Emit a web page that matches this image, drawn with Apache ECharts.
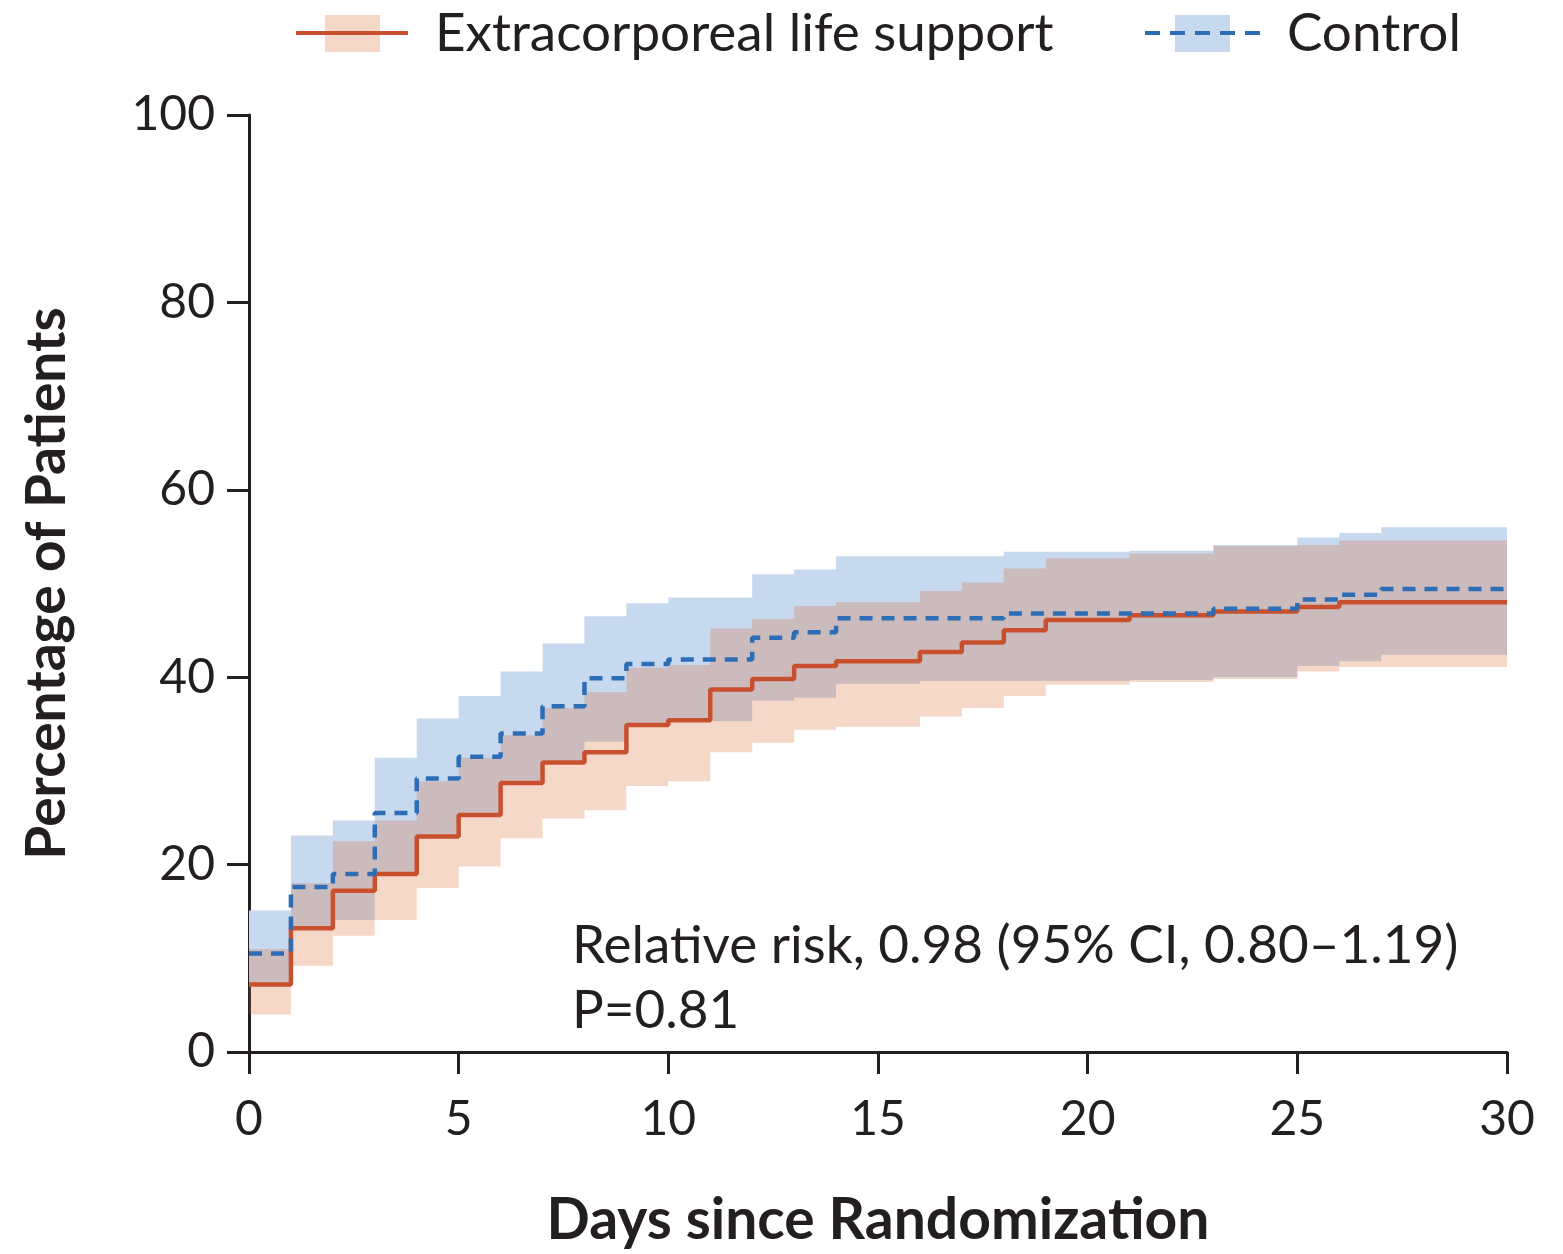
<!DOCTYPE html>
<html>
<head>
<meta charset="utf-8">
<script src="https://cdn.jsdelivr.net/npm/echarts@6/dist/echarts.min.js"></script>
<style>
html,body{margin:0;padding:0;background:#fff;}
#chart{width:1563px;height:1254px;}
</style>
</head>
<body>
<div id="chart"></div>
<script>
// Days since randomization (step value holds on [day, day+1))
const days = [0,1,2,3,4,5,6,7,8,9,10,11,12,13,14,15,16,17,18,19,20,21,22,23,24,25,26,27,28,29,30];
// Extracorporeal life support: estimate and 95% CI
const eclsEst = [7.2,13.2,17.2,19.0,23.0,25.3,28.7,30.9,32.0,34.9,35.4,38.7,39.8,41.2,41.7,41.7,42.7,43.7,45.0,46.1,46.1,46.6,46.6,47.0,47.0,47.5,48.0,48.0,48.0,48.0,48.0];
const eclsUp  = [11.0,18.0,22.5,24.7,28.9,31.4,33.8,36.7,38.4,41.0,41.3,45.2,46.2,47.6,48.0,48.0,49.2,50.1,51.6,52.7,52.7,53.2,53.2,54.0,54.0,54.1,54.6,54.6,54.6,54.6,54.6];
const eclsLow = [4.0,9.2,12.4,14.1,17.5,19.8,22.8,24.9,25.8,28.4,28.9,32.0,33.0,34.4,34.7,34.7,35.8,36.7,38.0,39.2,39.2,39.5,39.5,39.8,39.8,40.6,41.1,41.1,41.1,41.1,41.1];
// Control: estimate and 95% CI
const ctrlEst = [10.5,17.6,19.0,25.5,29.2,31.5,34.0,36.9,39.9,41.4,41.9,41.9,44.2,44.8,46.3,46.3,46.3,46.3,46.8,46.8,46.8,46.8,46.8,47.3,47.3,48.3,48.8,49.4,49.4,49.4,49.4];
const ctrlUp  = [15.1,23.1,24.7,31.4,35.6,38.0,40.6,43.6,46.5,47.9,48.5,48.5,51.0,51.5,52.9,52.9,52.9,52.9,53.4,53.4,53.4,53.5,53.5,54.1,54.1,54.9,55.4,56.0,56.0,56.0,56.0];
const ctrlLow = [7.0,13.3,14.1,19.1,23.0,25.4,28.6,31.0,33.1,34.9,35.3,35.3,37.5,37.8,39.3,39.3,39.6,39.6,39.6,39.6,39.6,39.7,39.7,40.0,40.0,41.2,41.7,42.4,42.4,42.4,42.4];

const xTicks = [0,5,10,15,20,25,30];
const yTicks = [0,20,40,60,80,100];
const legendNames = ['Extracorporeal life support','Control'];
const noteLines = ['Relative risk, 0.98 (95% CI, 0.80\u20131.19)','P=0.81'];
const xTitle = 'Days since Randomization';
const yTitle = 'Percentage of Patients';

const RED = '#c8502f';
const BLUE = '#2d6db5';
const BAND_BLUE = 'rgb(199,217,239)';
const BAND_ORANGE = 'rgba(219,99,39,0.25)';
const BAND_ORANGE_SOLID = 'rgb(246,216,201)';
const INK = '#231f20';
const FONT = 'Lato, "Open Sans", sans-serif';

const pairs = (ys) => days.map((d, i) => [d, ys[i]]);

// Step band polygon drawn through the cartesian scale
function bandSeries(up, lo, color, z) {
  return {
    type:'custom', silent:true, z:z, clip:true,
    data:[[0, lo[0]]],
    renderItem:function(params, api){
      const top = [], bot = [];
      for (let i = 0; i < days.length; i++) {
        const x0 = days[i];
        const x1 = i + 1 < days.length ? days[i+1] : days[i];
        top.push(api.coord([x0, up[i]]));
        top.push(api.coord([x1, up[i]]));
        bot.push(api.coord([x0, lo[i]]));
        bot.push(api.coord([x1, lo[i]]));
      }
      const pts = top.concat(bot.reverse());
      return {type:'polygon', shape:{points:pts}, style:{fill:color, stroke:null}};
    }
  };
}

const chart = echarts.init(document.getElementById('chart'), null, {renderer:'canvas'});
chart.setOption({
  animation:false,
  backgroundColor:'#fff',
  grid:{left:249, right:56, top:115, bottom:194, containLabel:false},
  xAxis:{
    type:'value', min:0, max:30, interval:5,
    axisLine:{lineStyle:{color:INK, width:3}},
    axisTick:{length:22, lineStyle:{color:INK, width:3}},
    axisLabel:{color:INK, fontSize:48, fontFamily:FONT, margin:44,
      formatter:(v)=> xTicks.includes(v) ? String(v) : ''},
    splitLine:{show:false},
    name:xTitle, nameLocation:'middle', nameGap:140,
    nameTextStyle:{color:INK, fontSize:57, fontWeight:'bold', fontFamily:FONT}
  },
  yAxis:{
    type:'value', min:0, max:100, interval:20,
    axisLine:{show:true, lineStyle:{color:INK, width:3}},
    axisTick:{show:true, length:22, lineStyle:{color:INK, width:3}},
    axisLabel:{color:INK, fontSize:48, fontFamily:FONT, margin:34,
      formatter:(v)=> yTicks.includes(v) ? String(v) : ''},
    splitLine:{show:false},
    name:yTitle, nameLocation:'middle', nameGap:174,
    nameTextStyle:{color:INK, fontSize:55, fontWeight:'bold', fontFamily:FONT}
  },
  series:[
    bandSeries(ctrlUp, ctrlLow, BAND_BLUE, 1),
    bandSeries(eclsUp, eclsLow, BAND_ORANGE, 2),
    {type:'line', name:legendNames[0], data:pairs(eclsEst), step:'end', showSymbol:false, symbol:'none',
      lineStyle:{color:RED, width:4.5}, silent:true, z:3},
    {type:'line', name:legendNames[1], data:pairs(ctrlEst), step:'end', showSymbol:false, symbol:'none',
      lineStyle:{color:BLUE, width:4.5, type:[13,9]}, silent:true, z:4}
  ],
  graphic:[
    {type:'rect', shape:{x:325, y:15, width:55, height:37}, style:{fill:BAND_ORANGE_SOLID}},
    {type:'line', shape:{x1:296, y1:33, x2:408, y2:33}, style:{stroke:RED, lineWidth:4}},
    {type:'text', x:435, y:34, style:{text:legendNames[0], fill:INK, font:'53px '+FONT, verticalAlign:'middle', align:'left'}},
    {type:'rect', shape:{x:1175, y:15, width:55, height:37}, style:{fill:BAND_BLUE}},
    {type:'line', shape:{x1:1145, y1:33, x2:1260, y2:33}, style:{stroke:BLUE, lineWidth:4, lineDash:[15,10]}},
    {type:'text', x:1287, y:34, style:{text:legendNames[1], fill:INK, font:'53px '+FONT, verticalAlign:'middle', align:'left'}},
    {type:'text', x:572, y:946, style:{text:noteLines[0], fill:INK, font:'53px '+FONT, verticalAlign:'middle', align:'left'}},
    {type:'text', x:572, y:1011, style:{text:noteLines[1], fill:INK, font:'53px '+FONT, verticalAlign:'middle', align:'left'}}
  ]
});
</script>
</body>
</html>
